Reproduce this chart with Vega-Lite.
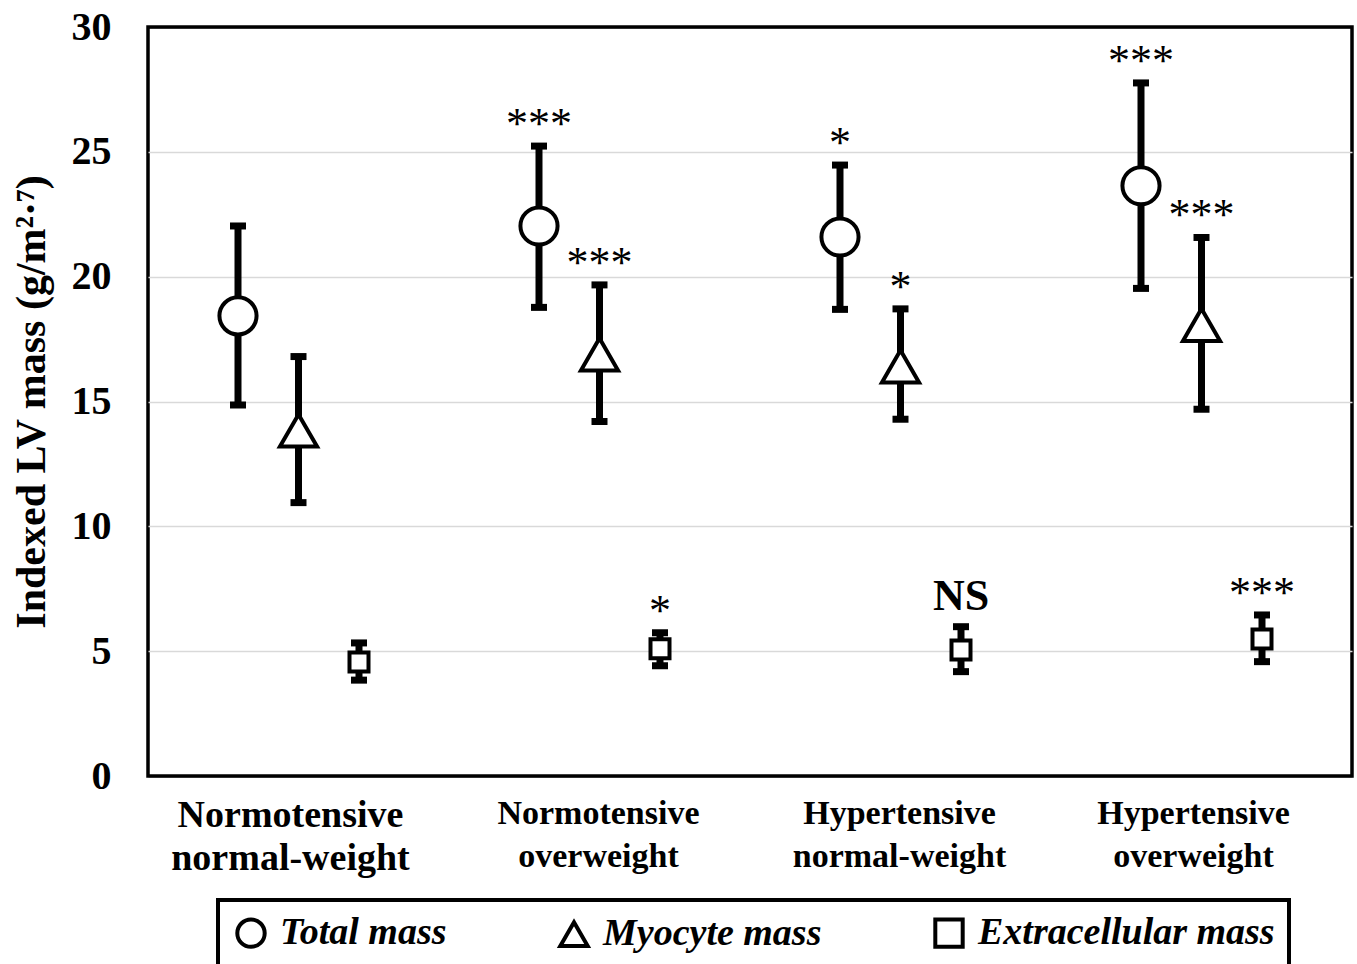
{
  "$schema": "https://vega.github.io/schema/vega-lite/v6.json",
  "width": 1204,
  "height": 749,
  "autosize": {"type": "none"},
  "padding": {"left": 148, "top": 27, "right": 5, "bottom": 188},
  "background": "white",
  "config": {
    "view": {"stroke": "black", "strokeWidth": 3.5},
    "font": "Liberation Serif",
    "legend": {"strokeWidth": 4}
  },
  "data": {
    "values": [
      {"group": "Normotensive normal-weight", "series": "Total mass", "mean": 18.43, "lo": 14.86, "hi": 22.03, "sig": ""},
      {"group": "Normotensive normal-weight", "series": "Myocyte mass", "mean": 13.84, "lo": 10.95, "hi": 16.8, "sig": ""},
      {"group": "Normotensive normal-weight", "series": "Extracellular mass", "mean": 4.57, "lo": 3.84, "hi": 5.33, "sig": ""},
      {"group": "Normotensive overweight", "series": "Total mass", "mean": 22.03, "lo": 18.77, "hi": 25.23, "sig": "***"},
      {"group": "Normotensive overweight", "series": "Myocyte mass", "mean": 16.89, "lo": 14.2, "hi": 19.67, "sig": "***"},
      {"group": "Normotensive overweight", "series": "Extracellular mass", "mean": 5.1, "lo": 4.42, "hi": 5.74, "sig": "*"},
      {"group": "Hypertensive normal-weight", "series": "Total mass", "mean": 21.59, "lo": 18.69, "hi": 24.47, "sig": "*"},
      {"group": "Hypertensive normal-weight", "series": "Myocyte mass", "mean": 16.41, "lo": 14.29, "hi": 18.71, "sig": "*"},
      {"group": "Hypertensive normal-weight", "series": "Extracellular mass", "mean": 5.05, "lo": 4.18, "hi": 5.98, "sig": "NS"},
      {"group": "Hypertensive overweight", "series": "Total mass", "mean": 23.64, "lo": 19.53, "hi": 27.76, "sig": "***"},
      {"group": "Hypertensive overweight", "series": "Myocyte mass", "mean": 18.07, "lo": 14.69, "hi": 21.57, "sig": "***"},
      {"group": "Hypertensive overweight", "series": "Extracellular mass", "mean": 5.49, "lo": 4.58, "hi": 6.45, "sig": "***"}
    ]
  },
  "encoding": {
    "x": {
      "field": "group",
      "type": "nominal",
      "sort": ["Normotensive normal-weight", "Normotensive overweight", "Hypertensive normal-weight", "Hypertensive overweight"],
      "scale": {"paddingInner": 0, "paddingOuter": 0},
      "axis": {
        "title": null,
        "domain": false,
        "ticks": false,
        "tickSize": 0,
        "labelAngle": 0,
        "labelExpr": "split(datum.label, ' ')",
        "labelFont": "Liberation Serif",
        "labelFontWeight": "bold",
        "labelFontSize": {"condition": {"test": "datum.value === 'Normotensive normal-weight'", "value": 38}, "value": 34},
        "labelOffset": {"condition": {"test": "datum.value === 'Normotensive normal-weight' || datum.value === 'Hypertensive overweight'", "value": -8}, "value": -1},
        "labelColor": "black",
        "labelPadding": 20,
        "labelLineHeight": 43,
        "labelLimit": 500
      }
    },
    "xOffset": {
      "field": "series",
      "type": "nominal",
      "sort": ["Total mass", "Myocyte mass", "Extracellular mass"],
      "scale": {"type": "band", "paddingInner": 0, "paddingOuter": 0.9876}
    }
  },
  "layer": [
    {
      "mark": {"type": "rule", "strokeWidth": 7, "color": "black"},
      "encoding": {
        "y": {
          "field": "lo",
          "type": "quantitative",
          "title": "Indexed LV mass (g/m²·⁷)",
          "scale": {"domain": [0, 30], "nice": false, "zero": true},
          "axis": {
            "values": [0, 5, 10, 15, 20, 25, 30],
            "domain": false,
            "ticks": false,
            "tickSize": 0,
            "grid": true,
            "gridColor": {"condition": {"test": "datum.value === 0 || datum.value === 30", "value": "black"}, "value": "#d9d9d9"},
            "gridWidth": 1.5,
            "labelFont": "Liberation Serif",
            "labelFontSize": 40,
            "labelFontWeight": "bold",
            "labelColor": "black",
            "labelPadding": 37,
            "titleFont": "Liberation Serif",
            "titleFontSize": 42,
            "titleFontWeight": "bold",
            "titleColor": "black",
            "titlePadding": 18
          }
        },
        "y2": {"field": "hi"}
      }
    },
    {
      "mark": {"type": "tick", "size": 16, "thickness": 7, "color": "black", "opacity": 1},
      "encoding": {"y": {"field": "lo", "type": "quantitative", "title": "Indexed LV mass (g/m²·⁷)"}}
    },
    {
      "mark": {"type": "tick", "size": 16, "thickness": 7, "color": "black", "opacity": 1},
      "encoding": {"y": {"field": "hi", "type": "quantitative", "title": "Indexed LV mass (g/m²·⁷)"}}
    },
    {
      "transform": [{"filter": "datum.series !== 'Extracellular mass'"}],
      "mark": {"type": "point", "filled": false, "fill": "white", "stroke": "black", "color": "black", "strokeWidth": 4, "opacity": 1, "size": 1380},
      "encoding": {
        "y": {"field": "mean", "type": "quantitative", "title": "Indexed LV mass (g/m²·⁷)"},
        "shape": {
          "field": "series",
          "type": "nominal",
          "scale": {"domain": ["Total mass", "Myocyte mass", "Extracellular mass"], "range": ["circle", "triangle-up", "square"]},
          "legend": {
            "title": null,
            "orient": "none",
            "legendX": 70,
            "legendY": 873,
            "direction": "horizontal",
            "columns": 3,
            "columnPadding": 105,
            "padding": 14,
            "strokeColor": "black",
            "labelFont": "Liberation Serif",
            "labelFontSize": 38,
            "labelFontStyle": "italic",
            "labelFontWeight": "bold",
            "labelColor": "black",
            "labelOffset": 10,
            "labelLimit": 500,
            "symbolSize": 750,
            "symbolStrokeWidth": 4
          }
        }
      }
    },
    {
      "transform": [{"filter": "datum.series === 'Extracellular mass'"}],
      "mark": {"type": "point", "filled": false, "fill": "white", "stroke": "black", "color": "black", "strokeWidth": 4, "opacity": 1, "size": 361},
      "encoding": {
        "y": {"field": "mean", "type": "quantitative", "title": "Indexed LV mass (g/m²·⁷)"},
        "shape": {"field": "series", "type": "nominal"}
      }
    },
    {
      "transform": [{"filter": "datum.sig === '*' || datum.sig === '***'"}],
      "mark": {"type": "text", "fontSize": 44, "font": "Liberation Serif", "color": "black", "baseline": "alphabetic", "align": "center", "dy": -8},
      "encoding": {
        "y": {"field": "hi", "type": "quantitative", "title": "Indexed LV mass (g/m²·⁷)"},
        "text": {"field": "sig"}
      }
    },
    {
      "transform": [{"filter": "datum.sig === 'NS'"}],
      "mark": {"type": "text", "fontSize": 44, "fontWeight": "bold", "font": "Liberation Serif", "color": "black", "baseline": "alphabetic", "align": "center", "dy": -17},
      "encoding": {
        "y": {"field": "hi", "type": "quantitative", "title": "Indexed LV mass (g/m²·⁷)"},
        "text": {"field": "sig"}
      }
    }
  ]
}
